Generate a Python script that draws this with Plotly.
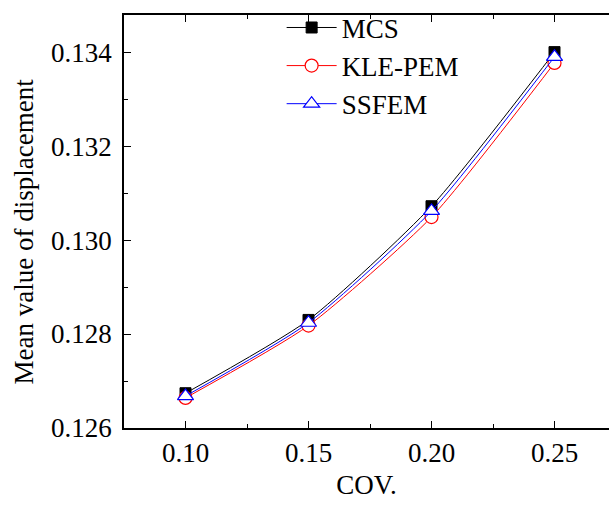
import plotly.graph_objects as go

cov = [0.10, 0.15, 0.20, 0.25]
mcs = [0.12674, 0.12830, 0.13072, 0.13400]
kle_pem = [0.12664, 0.12818, 0.13049, 0.13377]
ssfem = [0.12668, 0.12824, 0.13062, 0.13390]

FONT = "Liberation Serif, Times New Roman, serif"
FS = 27

fig = go.Figure()
fig.add_trace(go.Scatter(
    x=cov, y=mcs, name="MCS", mode="lines+markers",
    line=dict(color="black", width=1, shape="spline", smoothing=0.6),
    marker=dict(symbol="square", size=11, color="black", line=dict(color="black", width=1)),
))
fig.add_trace(go.Scatter(
    x=cov, y=kle_pem, name="KLE-PEM", mode="lines+markers",
    line=dict(color="red", width=1, shape="spline", smoothing=0.6),
    marker=dict(symbol="circle", size=13, color="white", line=dict(color="red", width=1.2)),
))
fig.add_trace(go.Scatter(
    x=cov, y=ssfem, name="SSFEM", mode="lines+markers",
    line=dict(color="blue", width=1, shape="spline", smoothing=0.6),
    marker=dict(symbol="triangle-up", size=14, color="white", line=dict(color="blue", width=1.2)),
))

fig.update_layout(
    width=609, height=505,
    margin=dict(l=124, r=0, t=15, b=77),
    plot_bgcolor="white", paper_bgcolor="white",
    font=dict(family=FONT, size=FS, color="black"),
    showlegend=True,
    legend=dict(x=0.325, y=1.028, xanchor="left", yanchor="top",
                bgcolor="rgba(0,0,0,0)", font=dict(size=FS, family=FONT),
                tracegroupgap=0, itemwidth=50),
    xaxis=dict(
        range=[0.075, 0.27215], tickvals=cov, tickformat=".2f",
        showline=True, linecolor="black", linewidth=1.5, mirror="ticks",
        ticks="inside", ticklen=7, tickwidth=1.2, tickcolor="black",
        minor=dict(dtick=0.025, tick0=0.075, ticks="inside", ticklen=4, tickwidth=1.2, tickcolor="black"),
        showgrid=False, zeroline=False,
        title=dict(text="COV.", font=dict(size=FS, family=FONT), standoff=8),
        tickfont=dict(size=FS, family=FONT),
    ),
    yaxis=dict(
        range=[0.126, 0.13479], dtick=0.002, tick0=0.126, tickformat=".3f",
        showline=True, linecolor="black", linewidth=1.5, mirror=False,
        ticks="inside", ticklen=7, tickwidth=1.2, tickcolor="black",
        minor=dict(dtick=0.001, tick0=0.126, ticks="inside", ticklen=4, tickwidth=1.2, tickcolor="black"),
        showgrid=False, zeroline=False,
        tickfont=dict(size=FS, family=FONT),
        ticklabelstandoff=5,
    ),
    annotations=[dict(
        text="Mean value of displacement", textangle=-90,
        xref="paper", yref="paper", x=0, y=0.5, xanchor="center", yanchor="middle",
        xshift=-101, yshift=-10, showarrow=False,
        font=dict(size=FS, family=FONT, color="black"),
    )],
)

fig.write_html("out.html")
